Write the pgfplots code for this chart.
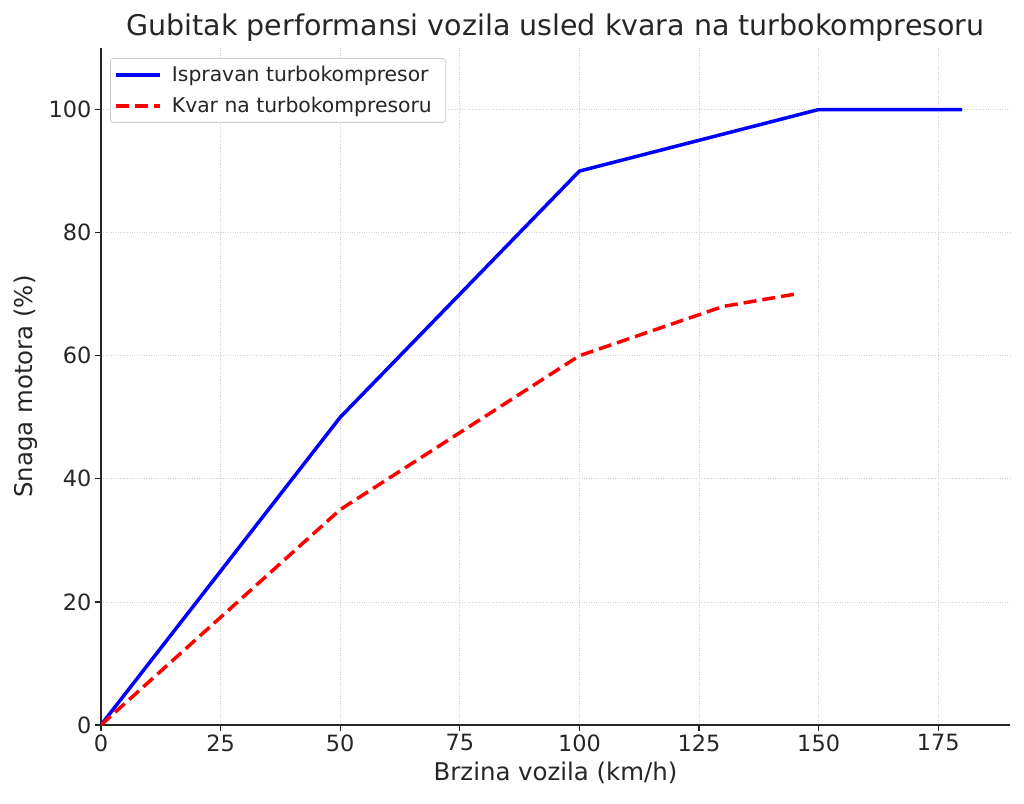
\documentclass[border=0pt]{standalone}
\usepackage{fontspec}
\setmainfont{DejaVu Sans}
\usepackage{pgfplots}
\pgfplotsset{compat=1.18}
\definecolor{txt}{HTML}{262626}
\begin{document}
\begin{tikzpicture}
\begin{axis}[
  at={(0,0)}, anchor=south west,
  scale only axis, width=909bp, height=677bp,
  xmin=0, xmax=190, ymin=0, ymax=110,
  xtick={0,25,50,75,100,125,150,175},
  ytick={0,20,40,60,80,100},
  axis x line*=bottom, axis y line*=left,
  axis line style={line width=1.4bp, color=txt, -},
  tick align=outside, tick style={line width=1.2bp, color=txt},
  major tick length=6bp,
  grid=major,
  grid style={dotted, line width=0.8bp, color=black!18},
  /pgf/number format/assume math mode=true,
  ticklabel style={font=\fontsize{22.5}{26}\selectfont, text=txt},
  xlabel={Brzina vozila (km/h)},
  ylabel={Snaga motora (\%)},
  label style={font=\fontsize{24.5}{28}\selectfont, text=txt},
  xlabel style={yshift=-4bp},
  ylabel style={yshift=4bp},
  title={Gubitak performansi vozila usled kvara na turbokompresoru},
  title style={font=\fontsize{28.6}{33}\selectfont, text=txt, yshift=-3bp},
  legend style={at={(rel axis cs:0.01,0.985)}, anchor=north west,
    font=\fontsize{20.4}{24}\selectfont, text=txt, draw=black!20, rounded corners=3bp,
    line width=0.8bp, inner xsep=4bp, inner ysep=6bp, row sep=10bp,
    nodes={inner xsep=10bp}},
  legend cell align=left,
  legend image code/.code={\draw[#1] (0cm,0cm) -- (1.55cm,0cm);},
]
\addplot[blue, line width=3.5bp] coordinates {(0,0) (50,50) (100,90) (150,100) (180,100)};
\addlegendentry{Ispravan turbokompresor}
\addplot[red, line width=3.5bp, dash pattern=on 13bp off 6bp] coordinates {(0,0) (50,35) (100,60) (130,68) (145,70)};
\addlegendentry{Kvar na turbokompresoru}
\end{axis}
\path[use as bounding box] (-101bp,-79bp) rectangle (923bp,725bp);
\end{tikzpicture}
\end{document}
